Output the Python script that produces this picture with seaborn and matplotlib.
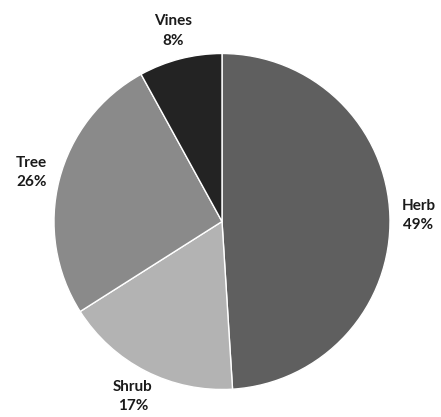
import matplotlib
matplotlib.use("Agg")
import matplotlib.pyplot as plt
import seaborn as sns

categories = ["Herb", "Shrub", "Tree", "Vines"]
percentages = [49, 17, 26, 8]
colors = ["#5f5f5f", "#b3b3b3", "#8a8a8a", "#232323"]

sns.set_style("white")
plt.rcParams['font.family'] = ['Lato', 'DejaVu Sans']

fig = plt.figure(figsize=(4.41, 4.17), dpi=100)
ax = fig.add_axes([54/441, (417-389.5)/417, 336/441, 336/417])

labels = [f"{c}\n{p}%" for c, p in zip(categories, percentages)]
wedges, texts = ax.pie(percentages, labels=labels, colors=colors, startangle=90,
                       counterclock=False, labeldistance=1.17,
                       wedgeprops=dict(edgecolor="white", linewidth=1.0),
                       textprops=dict(fontsize=11, fontweight="bold", color="#1a1a1a"))
for t in texts:
    t.set_ha("center")
    t.set_va("center")
    t.set_linespacing(1.5)
ax.set_xlim(-1, 1)
ax.set_ylim(-1, 1)
ax.set_aspect("auto")
ax.axis("off")
fig.savefig("out.png", dpi=100)
